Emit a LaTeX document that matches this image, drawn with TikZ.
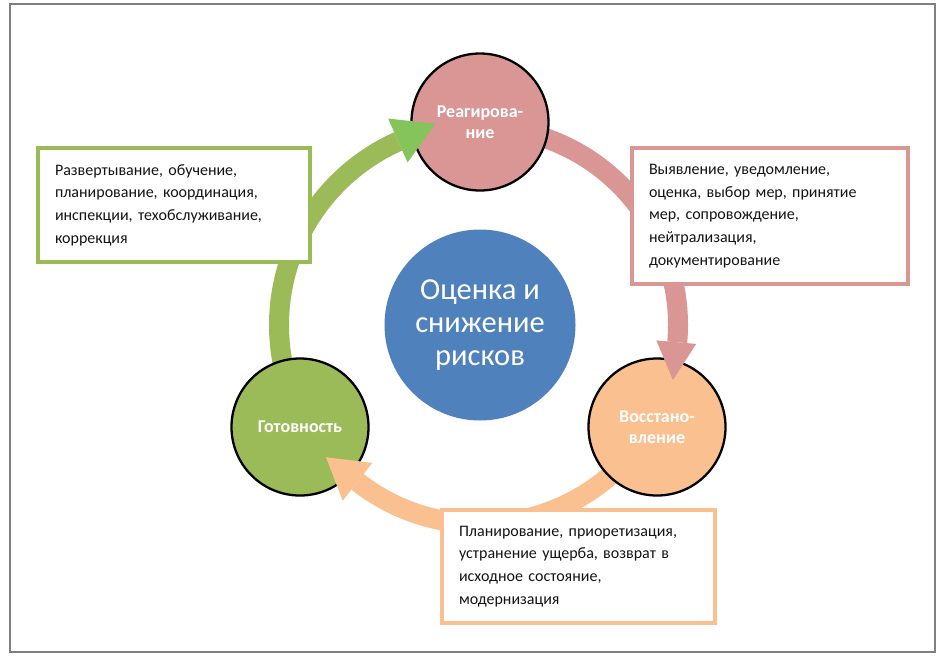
\documentclass[tikz,border=0pt]{standalone}
\usepackage{fontspec}
\setmainfont{Carlito}
\usetikzlibrary{calc}
\definecolor{grfill}{HTML}{9BBB59}
\definecolor{grhead}{HTML}{84C45A}
\definecolor{rdfill}{HTML}{D99694}
\definecolor{orfill}{HTML}{FAC090}
\definecolor{blfill}{HTML}{4F81BD}
\definecolor{framec}{HTML}{7F7F7F}
\definecolor{txt}{HTML}{141414}
\tikzset{
  phase/.style={circle, draw=black, line width=2.3pt, minimum size=137pt, inner sep=0pt,
    text=white, align=center, font=\bfseries\fontsize{18}{21}\selectfont},
  infobox/.style={draw=#1, line width=3.2pt, fill=white, inner xsep=17pt, inner ysep=0pt,
    align=left, text=txt, font=\fontsize{16}{22.7}\selectfont},
  band/.style={line width=20pt, draw=#1},
}
\begin{document}
\begin{tikzpicture}[x=1pt,y=1pt]
\useasboundingbox (0,0) rectangle (941,-659);
\fill[white] (0,0) rectangle (941,-659);
\draw[framec, line width=1.5pt] (10,-4) rectangle (935,-652);
\coordinate (C) at (480,-325);

% arrow bands (behind the circles)
\draw[band=grfill] ($(C)+(205:201)$) arc[start angle=205, end angle=114, radius=201];
\draw[band=rdfill] ($(C)+(72:198)$) arc[start angle=72, end angle=-5, radius=198];
\draw[band=orfill] ($(C)+(-40:199)$) arc[start angle=-40, end angle=-128, radius=199];

% circles
\node[circle, fill=blfill, minimum size=191pt, inner sep=0pt, text=white, align=center,
  font=\fontsize{30.5}{33}\selectfont] (center) at (C) {Оценка и\\ снижение\\ рисков};
\node[phase, fill=rdfill] (reag) at (480,-122) {Реагирова-\\ние};
\node[phase, fill=grfill] (got) at (300,-427) {Готовность};
\node[phase, fill=orfill] (vos) at (657,-427) {Восстано-\\вление};

% arrow heads (on top of the circles)
\fill[grhead] ($(C)+(114:178)$) -- ($(C)+(114:226)$) -- ($(C)+(114:202)+(24:41)$) -- cycle;
\fill[rdfill] ($(C)+(-5:177)$) -- ($(C)+(-5:217)$) -- ($(C)+(-5:197)+(-95:38)$) -- cycle;
\fill[orfill] ($(C)+(232:175)$) -- ($(C)+(232:223)$) -- ($(C)+(232:199)+(142:40)$) -- cycle;

% boxes
\node[infobox=grfill, minimum width=272pt, minimum height=114pt, text width=238pt] (bgreen) at (174,-205)
  {Развертывание, обучение,\\ планирование, координация,\\ инспекции, техобслуживание,\\ коррекция};
\node[infobox=rdfill, minimum width=276pt, minimum height=136pt, text width=242pt] (bred) at (770,-216)
  {Выявление, уведомление,\\ оценка, выбор мер, принятие\\ мер, сопровождение,\\ нейтрализация,\\ документирование};
\node[infobox=orfill, minimum width=273pt, minimum height=113pt, text width=239pt] (borange) at (578.5,-566.5)
  {Планирование, приоретизация,\\ устранение ущерба, возврат в\\ исходное состояние,\\ модернизация};
\end{tikzpicture}
\end{document}
